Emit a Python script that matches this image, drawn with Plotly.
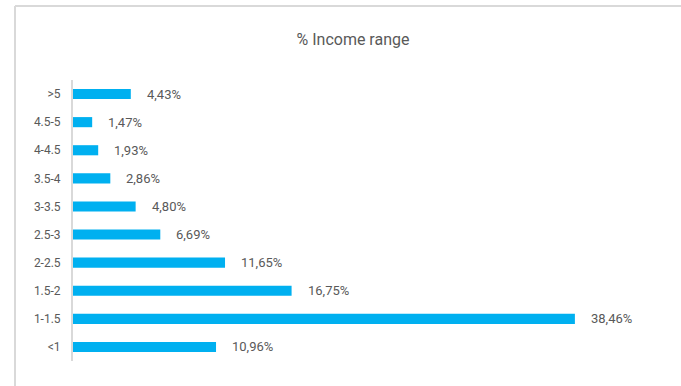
import plotly.graph_objects as go

# Income brackets (top to bottom) and their share in percent
categories = [">5", "4.5-5", "4-4.5", "3.5-4", "3-3.5", "2.5-3", "2-2.5", "1.5-2", "1-1.5", "<1"]
shares = [4.43, 1.47, 1.93, 2.86, 4.80, 6.69, 11.65, 16.75, 38.46, 10.96]
labels = [f"{v:.2f}".replace(".", ",") + "%" for v in shares]

W, H = 681, 386
ml, mr, mt, mb = 73, 26, 80, 25
pw = W - ml - mr
ph = H - mt - mb

fig = go.Figure()
fig.add_trace(go.Bar(
    y=categories,
    x=shares,
    orientation="h",
    marker=dict(color="#00B0F0", line=dict(width=0)),
    width=0.36,
    hoverinfo="skip",
))

# Value labels placed just right of each bar
for cat, v, lab in zip(categories, shares, labels):
    fig.add_annotation(
        x=v, y=cat, text=lab, showarrow=False,
        xanchor="left", yanchor="middle", xshift=14,
        font=dict(family="Roboto", size=13, color="#595959"),
    )

# Outer frame (top and left edges visible)
x_left = (15 - ml) / pw
y_top = (H - mb - 6) / ph
fig.add_shape(type="line", xref="paper", yref="paper",
              x0=x_left, x1=(W + 5 - ml) / pw, y0=y_top, y1=y_top,
              line=dict(color="#D9D9D9", width=2))
fig.add_shape(type="line", xref="paper", yref="paper",
              x0=x_left, x1=x_left, y0=y_top, y1=-(mb + 5) / ph,
              line=dict(color="#D9D9D9", width=2))

fig.update_layout(
    width=W, height=H,
    margin=dict(l=ml, r=mr, t=mt, b=mb),
    paper_bgcolor="white", plot_bgcolor="white",
    showlegend=False,
    title=dict(text="% Income range", x=353 / W, xanchor="center",
               y=1 - 39 / H, yanchor="middle",
               font=dict(family="Roboto", size=16, color="#595959")),
    font=dict(family="Roboto", size=12, color="#595959"),
    xaxis=dict(range=[0, pw / 13.05], visible=False, fixedrange=True),
    yaxis=dict(
        categoryorder="array", categoryarray=categories[::-1],
        showline=True, linecolor="#D9D9D9", linewidth=2,
        showgrid=False, ticks="", ticklabelstandoff=8,
        tickfont=dict(family="Roboto", size=12, color="#595959"),
        fixedrange=True,
    ),
)

fig.write_html("out.html")
